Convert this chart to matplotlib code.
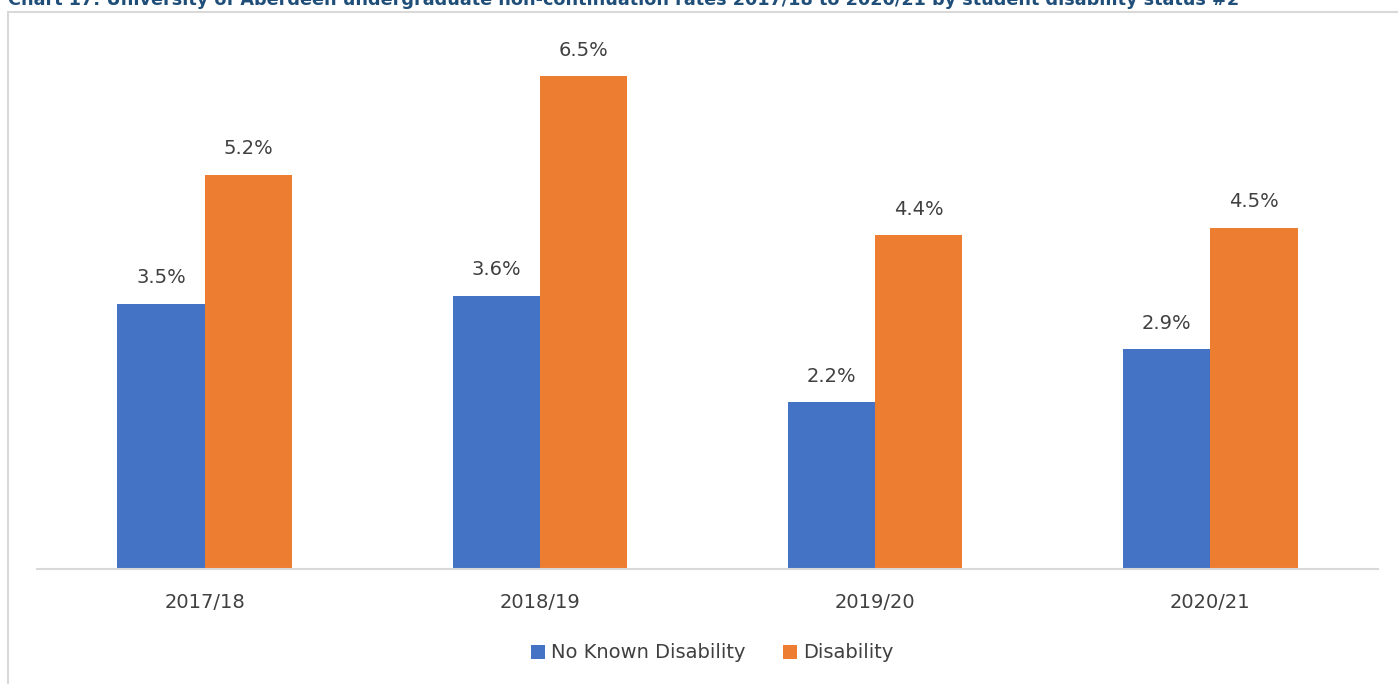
import matplotlib
matplotlib.use("Agg")
import matplotlib.pyplot as plt
import numpy as np
from matplotlib.patches import Rectangle

# data
years = ["2017/18", "2018/19", "2019/20", "2020/21"]
no_known = [3.5, 3.6, 2.2, 2.9]
disability = [5.2, 6.5, 4.4, 4.5]
series_names = ["No Known Disability", "Disability"]

BLUE = "#4472C4"
ORANGE = "#ED7D31"
TXT = "#404040"
GRID = "#D9D9D9"

plt.rcParams['font.family'] = ['DejaVu Sans']

fig = plt.figure(figsize=(13.98, 6.84), dpi=100)

# outer chart frame (partly off the picture, like the screenshot)
fig.patches.append(Rectangle((8 / 1398, -0.05), 1.1, 1 - 12 / 684 + 0.05,
                             transform=fig.transFigure, fill=False,
                             edgecolor=GRID, linewidth=1.5))

# clipped title at the very top
fig.text(8 / 1398, 1 - 5 / 684,
         "Chart 17: University of Aberdeen undergraduate non-continuation rates "
         "2017/18 to 2020/21 by student disability status #2",
         ha="left", va="baseline", fontsize=12.7, fontweight="bold", color="#1F4E79")

ax = fig.add_axes([37 / 1398, 115 / 684, 1341 / 1398, 530.6 / 684])

x = np.arange(len(years))
w = 0.26
b1 = ax.bar(x - w / 2, no_known, w, color=BLUE, label=series_names[0])
b2 = ax.bar(x + w / 2, disability, w, color=ORANGE, label=series_names[1])

for bars, vals in ((b1, no_known), (b2, disability)):
    for rect, v in zip(bars, vals):
        ax.annotate(f"{v:.1f}%", (rect.get_x() + rect.get_width() / 2, v),
                    xytext=(0, 12), textcoords="offset points",
                    ha="center", va="bottom", fontsize=14, color=TXT)

ax.set_xlim(-0.5, len(years) - 0.5)
ax.set_ylim(0, 7)
ax.set_xticks(x)
ax.set_xticklabels(years, fontsize=14, color=TXT)
ax.tick_params(axis="x", length=0, pad=17)
ax.set_yticks([])
for s in ("top", "right", "left"):
    ax.spines[s].set_visible(False)
ax.spines["bottom"].set_color(GRID)
ax.spines["bottom"].set_linewidth(1.5)

fig.legend(handles=[b1, b2], labels=series_names, loc="center",
           bbox_to_anchor=(712 / 1398, 1 - 653 / 684), ncol=2, frameon=False,
           fontsize=14, labelcolor=TXT, handlelength=0.75, handleheight=0.75,
           handletextpad=0.3, columnspacing=1.9)

fig.savefig("out.png", dpi=100)
